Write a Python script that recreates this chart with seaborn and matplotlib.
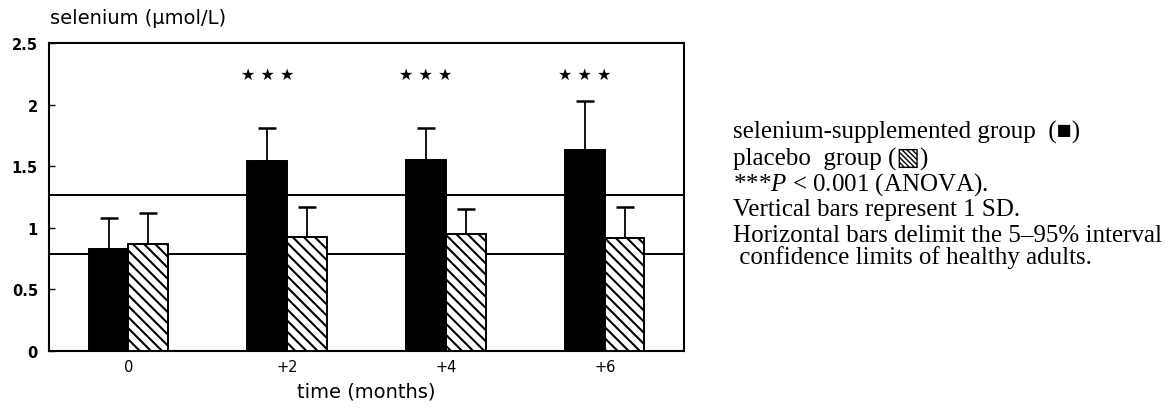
import numpy as np
import pandas as pd
import matplotlib
matplotlib.use("Agg")
import matplotlib.pyplot as plt
import seaborn as sns

# Serum selenium by month and group
months = ["0", "+2", "+4", "+6"]
groups = ["selenium", "placebo"]
selenium_mean = [0.83, 1.54, 1.55, 1.63]
selenium_sd = [0.25, 0.27, 0.26, 0.40]
placebo_mean = [0.87, 0.93, 0.95, 0.92]
placebo_sd = [0.25, 0.24, 0.20, 0.25]
significant = [False, True, True, True]
healthy_limits = [0.79, 1.27]
y_ticks = [0, 0.5, 1, 1.5, 2, 2.5]
y_tick_labels = ["0", "0.5", "1", "1.5", "2", "2.5"]

notes = [
    "selenium-supplemented group  (\u25a0)",
    "placebo  group (\u25a7)",
    "***$P$ < 0.001 (ANOVA).",
    "Vertical bars represent 1 SD.",
    "Horizontal bars delimit the 5\u201395% interval",
    " confidence limits of healthy adults.",
]

df = pd.DataFrame({
    "month": months * 2,
    "group": [groups[0]] * len(months) + [groups[1]] * len(months),
    "mean": selenium_mean + placebo_mean,
    "sd": selenium_sd + placebo_sd,
})

sns.set_theme(style="white")
plt.rcParams["font.family"] = ["DejaVu Sans"]
plt.rcParams["text.color"] = "black"
plt.rcParams["axes.labelcolor"] = "black"
plt.rcParams["xtick.color"] = "black"
plt.rcParams["ytick.color"] = "black"
plt.rcParams["hatch.linewidth"] = 1.5
plt.rcParams["mathtext.fontset"] = "custom"
plt.rcParams["mathtext.rm"] = "Liberation Serif"
plt.rcParams["mathtext.it"] = "Liberation Serif:italic"

fig = plt.figure(figsize=(11.76, 4.10), dpi=100)
ax = fig.add_axes([0.0417, 0.1415, 0.54, 0.7505])

sns.barplot(data=df, x="month", y="mean", hue="group", order=months,
            hue_order=groups, palette={"selenium": "black", "placebo": "white"},
            width=0.5, errorbar=None, edgecolor="black", linewidth=1.4,
            legend=False, ax=ax, zorder=3)

# placebo bars get the diagonal hatch
for patch in ax.containers[1]:
    patch.set_hatch("\\\\\\")
    patch.set_facecolor("white")
    patch.set_edgecolor("black")

# one-sided SD bars drawn from the bar centres
for container, means, sds in zip(ax.containers, [selenium_mean, placebo_mean],
                                 [selenium_sd, placebo_sd]):
    xs = [p.get_x() + p.get_width() / 2 for p in container]
    ax.errorbar(xs, means, yerr=[np.zeros(len(sds)), sds], fmt="none",
                ecolor="black", elinewidth=1.3, capsize=6.5, capthick=1.8,
                zorder=2)

# significance stars above the supplemented bars
for p, sig in zip(ax.containers[0], significant):
    if sig:
        ax.text(p.get_x() + p.get_width() / 2, 2.25,
                "\u2605 \u2605 \u2605", ha="center", va="center",
                fontsize=11.5, color="black", family="DejaVu Sans")

# reference range of healthy adults
for lim in healthy_limits:
    ax.axhline(lim, color="black", lw=1.4, zorder=1)

ax.set_xlim(-0.5, 3.5)
ax.set_ylim(0, 2.5)
ax.set_yticks(y_ticks)
ax.set_yticklabels(y_tick_labels, fontsize=10.5, fontweight="bold")
ax.set_xticks(range(len(months)))
ax.set_xticklabels(months, fontsize=10.5)
ax.tick_params(axis="y", direction="in", length=4, width=1, left=True, pad=8,
               color="black")
ax.tick_params(axis="x", length=0, pad=6)
ax.set_xlabel("time (months)", fontsize=14, labelpad=5)
ax.set_ylabel("")
for spine in ax.spines.values():
    spine.set_color("black")
    spine.set_linewidth(1.5)

fig.text(0.0425, 0.955, "selenium (\u00b5mol/L)", fontsize=14, ha="left",
         va="center")

# notes to the right of the chart
note_y = [0.676, 0.612, 0.551, 0.488, 0.425, 0.371]
for txt, yy in zip(notes, note_y):
    fig.text(0.623, yy, txt, fontsize=18, ha="left", va="center",
             family=["Liberation Serif", "DejaVu Sans"])

fig.savefig("out.png", dpi=100, facecolor="white")
